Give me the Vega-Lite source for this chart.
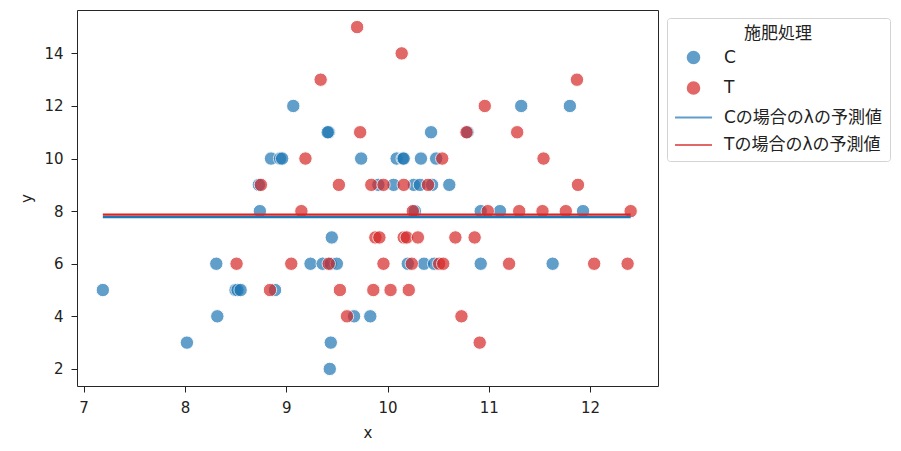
{
  "$schema": "https://vega.github.io/schema/vega-lite/v6.json",
  "width": 581,
  "height": 376,
  "autosize": {"type": "none"},
  "padding": {"left": 77, "top": 10, "right": 243, "bottom": 65},
  "background": "white",
  "config": {
    "view": {"stroke": "#262626", "strokeWidth": 1},
    "axis": {
      "labelFont": "DejaVu Sans",
      "labelFontSize": 15,
      "labelColor": "#222222",
      "titleFont": "DejaVu Sans",
      "titleFontSize": 15,
      "titleFontWeight": "normal",
      "titleColor": "#222222",
      "tickColor": "#222222",
      "tickSize": 6,
      "labelPadding": 8,
      "grid": false,
      "domain": false
    },
    "legend": {
      "orient": "none",
      "legendX": 590,
      "legendY": 8,
      "titleFont": "Noto Sans CJK JP",
      "titleFontSize": 17,
      "titleFontWeight": "normal",
      "titleColor": "#222222",
      "titleAnchor": "middle",
      "titlePadding": 6,
      "labelFont": "DejaVu Sans, Noto Sans CJK JP",
      "labelFontSize": 17,
      "labelColor": "#222222",
      "symbolSize": 130,
      "symbolStrokeWidth": 2.2,
      "symbolOffset": 10,
      "labelOffset": 22,
      "rowPadding": 9.5,
      "padding": 8,
      "strokeColor": "#d3d3d3",
      "fillColor": "white",
      "cornerRadius": 3
    }
  },
  "datasets": {
    "points": [
      {"x": 9.07, "y": 12, "f": "C"},
      {"x": 11.32, "y": 12, "f": "C"},
      {"x": 11.8, "y": 12, "f": "C"},
      {"x": 9.42, "y": 11, "f": "C"},
      {"x": 9.41, "y": 11, "f": "C"},
      {"x": 10.43, "y": 11, "f": "C"},
      {"x": 10.79, "y": 11, "f": "C"},
      {"x": 8.85, "y": 10, "f": "C"},
      {"x": 8.94, "y": 10, "f": "C"},
      {"x": 8.96, "y": 10, "f": "C"},
      {"x": 9.74, "y": 10, "f": "C"},
      {"x": 10.09, "y": 10, "f": "C"},
      {"x": 10.15, "y": 10, "f": "C"},
      {"x": 10.16, "y": 10, "f": "C"},
      {"x": 10.33, "y": 10, "f": "C"},
      {"x": 10.48, "y": 10, "f": "C"},
      {"x": 8.73, "y": 9, "f": "C"},
      {"x": 9.91, "y": 9, "f": "C"},
      {"x": 10.06, "y": 9, "f": "C"},
      {"x": 10.26, "y": 9, "f": "C"},
      {"x": 10.32, "y": 9, "f": "C"},
      {"x": 10.44, "y": 9, "f": "C"},
      {"x": 10.61, "y": 9, "f": "C"},
      {"x": 8.74, "y": 8, "f": "C"},
      {"x": 10.27, "y": 8, "f": "C"},
      {"x": 10.92, "y": 8, "f": "C"},
      {"x": 11.11, "y": 8, "f": "C"},
      {"x": 11.93, "y": 8, "f": "C"},
      {"x": 9.45, "y": 7, "f": "C"},
      {"x": 8.31, "y": 6, "f": "C"},
      {"x": 9.24, "y": 6, "f": "C"},
      {"x": 9.36, "y": 6, "f": "C"},
      {"x": 9.44, "y": 6, "f": "C"},
      {"x": 9.5, "y": 6, "f": "C"},
      {"x": 10.2, "y": 6, "f": "C"},
      {"x": 10.36, "y": 6, "f": "C"},
      {"x": 10.46, "y": 6, "f": "C"},
      {"x": 10.92, "y": 6, "f": "C"},
      {"x": 11.63, "y": 6, "f": "C"},
      {"x": 7.19, "y": 5, "f": "C"},
      {"x": 8.5, "y": 5, "f": "C"},
      {"x": 8.52, "y": 5, "f": "C"},
      {"x": 8.55, "y": 5, "f": "C"},
      {"x": 8.89, "y": 5, "f": "C"},
      {"x": 8.32, "y": 4, "f": "C"},
      {"x": 9.67, "y": 4, "f": "C"},
      {"x": 9.83, "y": 4, "f": "C"},
      {"x": 8.02, "y": 3, "f": "C"},
      {"x": 9.44, "y": 3, "f": "C"},
      {"x": 9.43, "y": 2, "f": "C"},
      {"x": 9.7, "y": 15, "f": "T"},
      {"x": 10.14, "y": 14, "f": "T"},
      {"x": 9.34, "y": 13, "f": "T"},
      {"x": 11.87, "y": 13, "f": "T"},
      {"x": 10.96, "y": 12, "f": "T"},
      {"x": 9.73, "y": 11, "f": "T"},
      {"x": 10.78, "y": 11, "f": "T"},
      {"x": 11.28, "y": 11, "f": "T"},
      {"x": 9.19, "y": 10, "f": "T"},
      {"x": 10.54, "y": 10, "f": "T"},
      {"x": 11.54, "y": 10, "f": "T"},
      {"x": 8.75, "y": 9, "f": "T"},
      {"x": 9.52, "y": 9, "f": "T"},
      {"x": 9.84, "y": 9, "f": "T"},
      {"x": 9.96, "y": 9, "f": "T"},
      {"x": 10.16, "y": 9, "f": "T"},
      {"x": 10.4, "y": 9, "f": "T"},
      {"x": 11.88, "y": 9, "f": "T"},
      {"x": 9.15, "y": 8, "f": "T"},
      {"x": 10.25, "y": 8, "f": "T"},
      {"x": 10.99, "y": 8, "f": "T"},
      {"x": 11.3, "y": 8, "f": "T"},
      {"x": 11.53, "y": 8, "f": "T"},
      {"x": 11.76, "y": 8, "f": "T"},
      {"x": 12.4, "y": 8, "f": "T"},
      {"x": 9.88, "y": 7, "f": "T"},
      {"x": 9.92, "y": 7, "f": "T"},
      {"x": 10.16, "y": 7, "f": "T"},
      {"x": 10.19, "y": 7, "f": "T"},
      {"x": 10.3, "y": 7, "f": "T"},
      {"x": 10.67, "y": 7, "f": "T"},
      {"x": 10.86, "y": 7, "f": "T"},
      {"x": 8.51, "y": 6, "f": "T"},
      {"x": 9.05, "y": 6, "f": "T"},
      {"x": 9.42, "y": 6, "f": "T"},
      {"x": 9.96, "y": 6, "f": "T"},
      {"x": 10.24, "y": 6, "f": "T"},
      {"x": 10.51, "y": 6, "f": "T"},
      {"x": 10.55, "y": 6, "f": "T"},
      {"x": 11.2, "y": 6, "f": "T"},
      {"x": 12.04, "y": 6, "f": "T"},
      {"x": 12.37, "y": 6, "f": "T"},
      {"x": 8.84, "y": 5, "f": "T"},
      {"x": 9.53, "y": 5, "f": "T"},
      {"x": 9.86, "y": 5, "f": "T"},
      {"x": 10.03, "y": 5, "f": "T"},
      {"x": 10.21, "y": 5, "f": "T"},
      {"x": 9.6, "y": 4, "f": "T"},
      {"x": 10.73, "y": 4, "f": "T"},
      {"x": 10.91, "y": 3, "f": "T"}
    ],
    "lines": [
      {"x": 7.19, "y": 7.77, "f": "Cの場合のλの予測値"},
      {"x": 12.4, "y": 7.77, "f": "Cの場合のλの予測値"},
      {"x": 7.19, "y": 7.87, "f": "Tの場合のλの予測値"},
      {"x": 12.4, "y": 7.87, "f": "Tの場合のλの予測値"}
    ]
  },
  "layer": [
    {
      "data": {"name": "points"},
      "mark": {"type": "point", "filled": true, "size": 180, "opacity": 0.7, "stroke": "white", "strokeWidth": 1},
      "encoding": {
        "x": {"field": "x", "type": "quantitative", "title": "x",
              "scale": {"domain": [6.935, 12.67], "nice": false, "zero": false},
              "axis": {"values": [7, 8, 9, 10, 11, 12], "format": "d", "titlePadding": 10}},
        "y": {"field": "y", "type": "quantitative", "title": "y",
              "scale": {"domain": [1.35, 15.65], "nice": false, "zero": false},
              "axis": {"values": [2, 4, 6, 8, 10, 12, 14], "format": "d", "titlePadding": 9}},
        "color": {"field": "f", "type": "nominal", "title": "施肥処理",
                  "scale": {"domain": ["C", "T", "Cの場合のλの予測値", "Tの場合のλの予測値"],
                            "range": ["#1f77b4", "#d62728", "#1f77b4", "#d62728"]}},
        "shape": {"field": "f", "type": "nominal", "title": "施肥処理",
                  "scale": {"domain": ["C", "T", "Cの場合のλの予測値", "Tの場合のλの予測値"],
                            "range": ["circle", "circle", "M-3.24,0L3.24,0", "M-3.24,0L3.24,0"]}}
      }
    },
    {
      "data": {"name": "lines"},
      "mark": {"type": "line", "strokeWidth": 2.2},
      "encoding": {
        "x": {"field": "x", "type": "quantitative"},
        "y": {"field": "y", "type": "quantitative"},
        "color": {"field": "f", "type": "nominal"}
      }
    }
  ]
}
